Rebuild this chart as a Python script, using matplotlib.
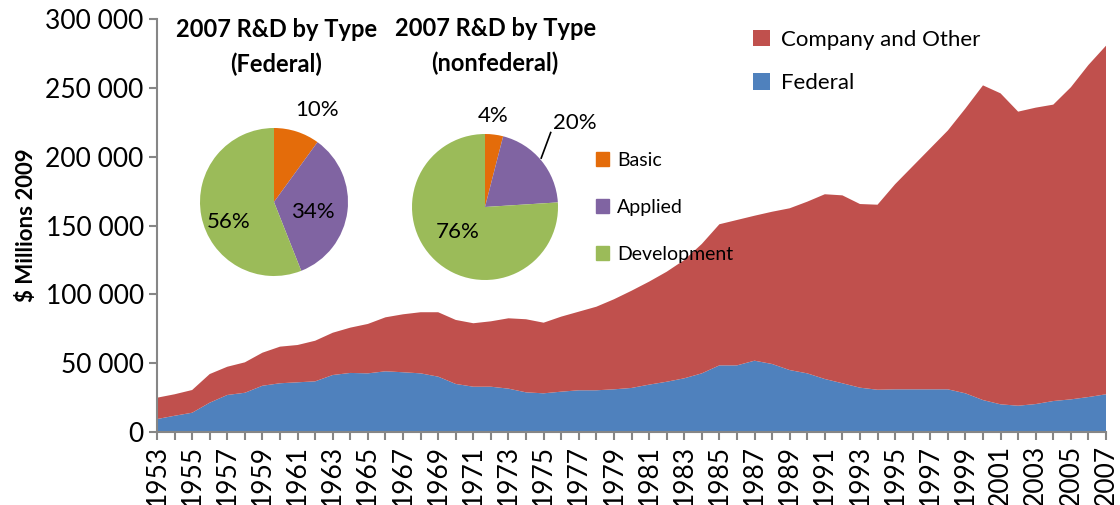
# R&D 堆积面积图 + 两个饼图(2007年按类型)
import numpy as np
import matplotlib.pyplot as plt
from matplotlib.patches import Patch
from matplotlib.ticker import FuncFormatter, MultipleLocator

plt.rcParams['font.family'] = ['Lato', 'DejaVu Sans']

years = list(range(1953, 2008))
federal = [9400, 11800, 14000, 21300, 26900, 28500, 33600, 35400, 36100, 36800,
           41400, 42900, 42600, 44100, 43400, 42600, 40200, 34900, 32900, 32900,
           31500, 28800, 28100, 29300, 30300, 30300, 31000, 32000, 34400, 36500,
           39000, 42600, 48400, 48400, 51800, 49400, 45000, 42600, 38500, 35400,
           32200, 30700, 31000, 31000, 31000, 31000, 28100, 23200, 20100, 19100,
           20300, 22500, 23700, 25400, 27400]
total = [24900, 27400, 30500, 42100, 47400, 50600, 57600, 62000, 63200, 66300,
         72100, 75800, 78500, 83300, 85500, 87000, 87000, 81400, 79000, 80400,
         82600, 81900, 79400, 83800, 87400, 91000, 96400, 102600, 109200, 116400,
         124900, 136600, 150900, 154000, 157100, 160000, 162500, 167300, 172700, 171900,
         165600, 165100, 180000, 193000, 206000, 219000, 235000, 251800, 246000, 232700,
         235600, 237800, 250400, 266600, 280600]
company_other = list(np.array(total) - np.array(federal))

pie_labels = ["Basic", "Applied", "Development"]
pie_federal = [10, 34, 56]
pie_nonfederal = [4, 20, 76]

c_red = "#C0504D"
c_blue = "#4F81BD"
pie_colors = ["#E46C0A", "#8064A2", "#9BBB59"]
grey = "#868686"

fig = plt.figure(figsize=(11.2, 5.05), dpi=100)
ax = fig.add_axes([157/1120, 1-432/505, (1106-157)/1120, (432-19)/505])
ax.stackplot(years, federal, company_other, colors=[c_blue, c_red],
             labels=["Federal", "Company and Other"])
ax.set_xlim(1953, 2007)
ax.set_ylim(0, 300000)
ax.yaxis.set_major_locator(MultipleLocator(50000))
ax.yaxis.set_major_formatter(FuncFormatter(lambda v, p: f"{int(v):,}".replace(",", " ")))
ax.set_xticks(years)
ax.set_xticklabels([str(y) if (y - 1953) % 2 == 0 else "" for y in years], rotation=90)
ax.tick_params(axis="both", labelsize=19, colors=grey, labelcolor="black", length=6, width=1.5)
ax.tick_params(axis="x", pad=3)
for s in ["top", "right"]:
    ax.spines[s].set_visible(False)
for s in ["left", "bottom"]:
    ax.spines[s].set_color(grey)
    ax.spines[s].set_linewidth(1.5)
ax.set_ylabel("$ Millions 2009", fontsize=16, fontweight="bold", labelpad=6)

# 主图例
h, l = ax.get_legend_handles_labels()
leg = ax.legend(h[::-1], l[::-1], loc="upper left", bbox_to_anchor=(733/1120, 1-10/505),
                bbox_transform=fig.transFigure, frameon=False, fontsize=16,
                handlelength=0.75, handleheight=0.75, handletextpad=0.5, labelspacing=1.05)

# 饼图
def draw_pie(cx, cy, r, vals, title, texts, title_xy):
    pax = fig.add_axes([(cx-r)/1120, 1-(cy+r)/505, 2*r/1120, 2*r/505])
    pax.pie(vals, colors=pie_colors, startangle=90, counterclock=False,
            wedgeprops=dict(linewidth=0))
    pax.set_xlim(-1, 1)
    pax.set_ylim(-1, 1)
    for (tx, ty, s) in texts:
        pax.text(tx, ty, s, fontsize=16, ha="center", va="center")
    pax.text(title_xy[0], title_xy[1], title, fontsize=17, fontweight="bold",
             ha="center", va="center", linespacing=1.6)
    return pax

draw_pie(274, 202, 74, pie_federal, "2007 R&D by Type\n(Federal)",
         [(0.58, 1.24, "10%"), (0.53, -0.14, "34%"), (-0.61, -0.27, "56%")], (0.03, 2.09))
p2 = draw_pie(485, 207, 73, pie_nonfederal, "2007 R&D by Type\n(nonfederal)",
              [(0.11, 1.25, "4%"), (1.23, 1.15, "20%"), (-0.38, -0.34, "76%")], (0.14, 2.21))
p2.plot([0.77, 0.9], [0.67, 1.02], color="black", lw=1.2, clip_on=False)

# 饼图图例
handles = [Patch(color=c, label=lab) for c, lab in zip(pie_colors, pie_labels)]
fig.legend(handles=handles, loc="upper left", bbox_to_anchor=(578/1120, 1-134/505),
           frameon=False, fontsize=14, handlelength=0.7, handleheight=0.7,
           handletextpad=0.4, labelspacing=1.55)

plt.savefig("out.png", dpi=100)
